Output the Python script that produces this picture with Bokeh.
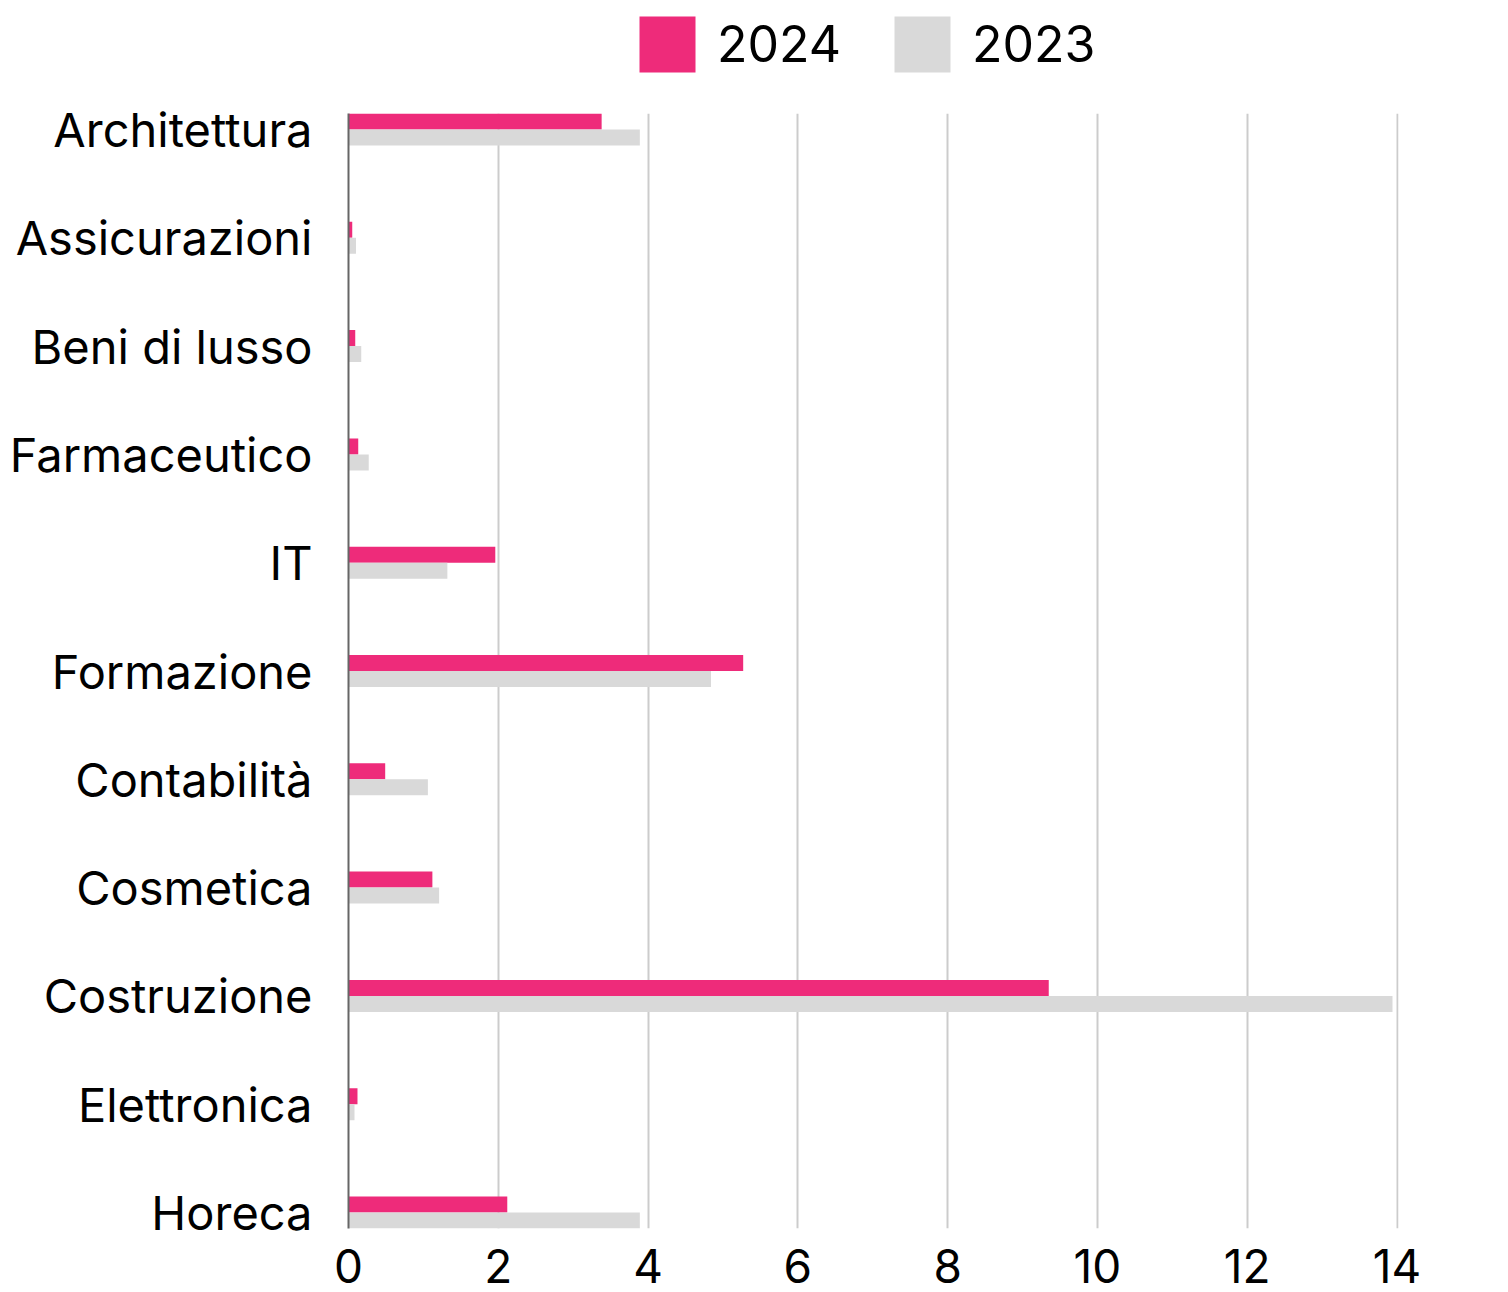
from bokeh.plotting import figure
from bokeh.models import (ColumnDataSource, Range1d, FixedTicker, Legend, LegendItem)
from bokeh.layouts import column
from bokeh.transform import dodge
from bokeh.embed import file_html
from bokeh.resources import INLINE

categories = ["Architettura", "Assicurazioni", "Beni di lusso", "Farmaceutico", "IT",
              "Formazione", "Contabilità", "Cosmetica", "Costruzione", "Elettronica", "Horeca"]
values_2024 = [3.38, 0.05, 0.09, 0.13, 1.96, 5.27, 0.49, 1.12, 9.35, 0.12, 2.12]
values_2023 = [3.89, 0.10, 0.17, 0.27, 1.32, 4.84, 1.06, 1.21, 13.94, 0.08, 3.89]
x_ticks = [0, 2, 4, 6, 8, 10, 12, 14]
series_names = ["2024", "2023"]

PINK = "#EE2B7A"
GRAY = "#D9D9D9"
FONT = "Inter"

bar_h = 0.1477
src = ColumnDataSource(dict(
    y=list(range(len(categories))),
    cat=categories,
    v24=values_2024,
    v23=values_2023,
))

# ---------- legend strip (frame is aligned with the chart's frame by the column layout) ----------
top_h = 80
lp = figure(width=1508, height=top_h, output_backend="svg", toolbar_location=None,
            x_range=Range1d(0, 14.02), y_range=Range1d(0, 1),
            x_axis_type=None, y_axis_type=None,
            min_border_left=348, min_border_right=110,
            min_border_top=0, min_border_bottom=0)
lp.outline_line_color = None
lp.grid.visible = False
g24 = lp.hbar(y="y", right="v24", left=0, height=bar_h, source=src,
              fill_color=PINK, line_color=None, visible=False)
g23 = lp.hbar(y="y", right="v23", left=0, height=bar_h, source=src,
              fill_color=GRAY, line_color=None, visible=False)
legend = Legend(items=[LegendItem(label=series_names[0], renderers=[g24]),
                       LegendItem(label=series_names[1], renderers=[g23])],
                orientation="horizontal", location=(284, 1),
                glyph_width=70, glyph_height=70, label_standoff=15, spacing=46,
                padding=0, margin=0, border_line_color=None, background_fill_alpha=0,
                inactive_fill_alpha=0,
                label_text_font=FONT, label_text_font_size="50px", label_text_color="#000000")
lp.add_layout(legend, "center")

# ---------- main chart ----------
p = figure(width=1508, height=1292 - top_h, output_backend="svg", toolbar_location=None,
           x_range=Range1d(0, 14.02),
           y_range=Range1d(len(categories) - 1 + bar_h, -bar_h),
           min_border_left=348, min_border_right=110,
           min_border_top=113 - top_h, min_border_bottom=64)
p.outline_line_color = None
p.background_fill_color = "white"

p.hbar(y=dodge("y", -bar_h / 2, range=p.y_range), right="v24", left=0, height=bar_h,
       source=src, fill_color=PINK, line_color=None)
p.hbar(y=dodge("y", bar_h / 2, range=p.y_range), right="v23", left=0, height=bar_h,
       source=src, fill_color=GRAY, line_color=None)

# y axis (categories)
yax = p.yaxis[0]
yax.ticker = FixedTicker(ticks=list(range(len(categories))))
yax.major_label_overrides = {i: c for i, c in enumerate(categories)}
yax.major_label_text_font = FONT
yax.major_label_text_font_size = "47px"
yax.major_label_text_color = "#000000"
yax.major_tick_line_color = None
yax.minor_tick_line_color = None
yax.major_tick_out = 0
yax.major_label_standoff = 36
yax.axis_line_color = "#666666"
yax.axis_line_width = 2

# x axis
xax = p.xaxis[0]
xax.ticker = FixedTicker(ticks=x_ticks)
xax.major_label_text_font = FONT
xax.major_label_text_font_size = "46px"
xax.major_label_text_color = "#000000"
xax.major_tick_line_color = None
xax.minor_tick_line_color = None
xax.major_tick_out = 0
xax.major_label_standoff = 20
xax.axis_line_color = None

p.ygrid.grid_line_color = None
p.xgrid.grid_line_color = "#CCCCCC"
p.xgrid.grid_line_width = 2

layout = column(lp, p, spacing=0)
open("out.html", "w").write(file_html(layout, INLINE))
